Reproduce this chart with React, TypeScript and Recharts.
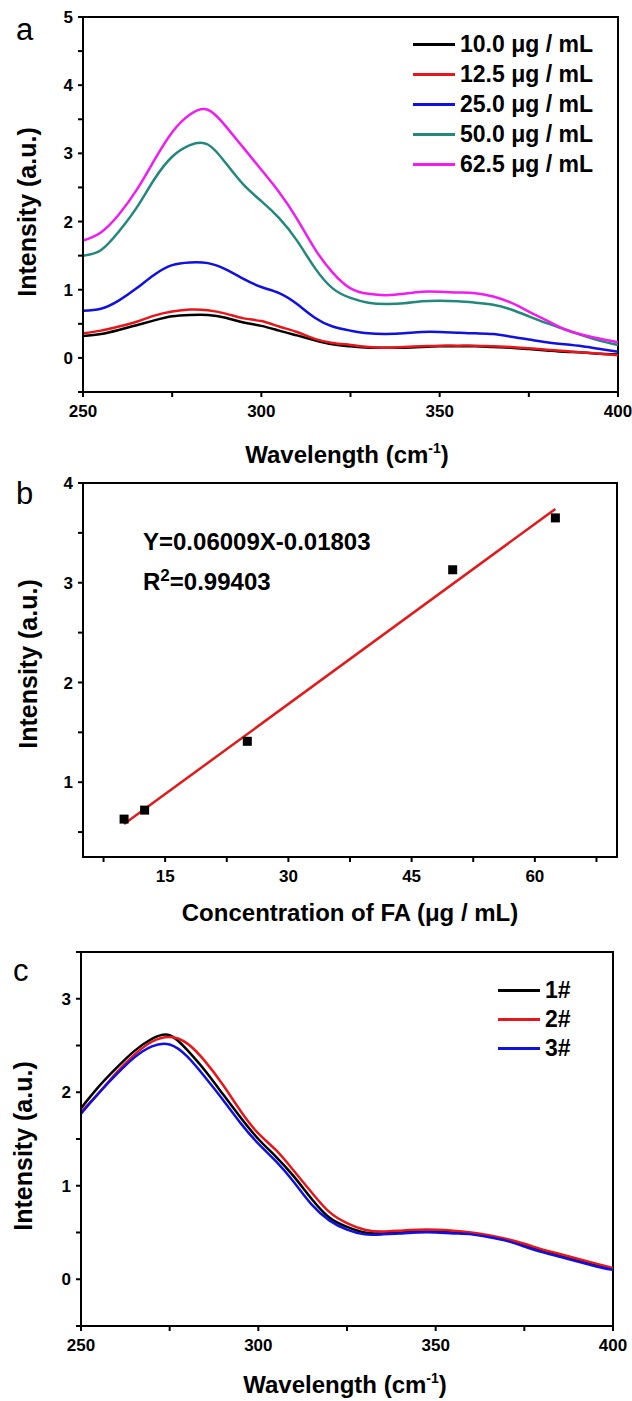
import React from 'react';
import { LineChart, Line, XAxis, YAxis, ReferenceArea, Legend, ScatterChart, Scatter } from 'recharts';

const FONT = '"Liberation Sans", Arial, sans-serif';

// ---- panel a: spectra at five FA concentrations ----
const waveA = [250, 255, 260, 265, 270, 275, 280, 285, 290, 295, 300, 305, 310, 315, 320, 325, 330, 335, 340, 345, 350, 355, 360, 365, 370, 375, 380, 385, 390, 395, 400];
const conc10 = [0.32, 0.35, 0.41, 0.48, 0.55, 0.61, 0.63, 0.63, 0.59, 0.52, 0.47, 0.40, 0.33, 0.26, 0.20, 0.17, 0.15, 0.15, 0.15, 0.16, 0.17, 0.17, 0.17, 0.16, 0.15, 0.13, 0.11, 0.09, 0.08, 0.06, 0.05];
const conc125 = [0.36, 0.40, 0.46, 0.53, 0.62, 0.68, 0.71, 0.70, 0.65, 0.58, 0.54, 0.46, 0.38, 0.28, 0.22, 0.19, 0.16, 0.15, 0.16, 0.17, 0.18, 0.18, 0.18, 0.17, 0.16, 0.14, 0.12, 0.10, 0.08, 0.06, 0.04];
const conc25 = [0.69, 0.72, 0.84, 1.02, 1.22, 1.36, 1.40, 1.39, 1.30, 1.16, 1.04, 0.95, 0.79, 0.59, 0.46, 0.40, 0.36, 0.35, 0.36, 0.38, 0.38, 0.37, 0.36, 0.35, 0.31, 0.27, 0.23, 0.20, 0.17, 0.13, 0.09];
const conc50 = [1.50, 1.58, 1.85, 2.20, 2.62, 2.95, 3.12, 3.13, 2.86, 2.54, 2.30, 2.05, 1.72, 1.32, 1.02, 0.88, 0.81, 0.79, 0.80, 0.83, 0.84, 0.83, 0.81, 0.78, 0.71, 0.61, 0.51, 0.42, 0.33, 0.25, 0.19];
const conc625 = [1.72, 1.84, 2.10, 2.46, 2.90, 3.31, 3.57, 3.64, 3.40, 3.08, 2.76, 2.43, 2.04, 1.60, 1.25, 1.02, 0.94, 0.92, 0.94, 0.97, 0.97, 0.96, 0.95, 0.90, 0.81, 0.68, 0.55, 0.42, 0.34, 0.28, 0.23];
const labelsA = ['10.0 μg / mL', '12.5 μg / mL', '25.0 μg / mL', '50.0 μg / mL', '62.5 μg / mL'];

// ---- panel b: calibration points + fitted line ----
const concB = [10, 12.5, 25, 50, 62.5];
const peakB = [0.63, 0.72, 1.41, 3.13, 3.65];
const fitX = [10, 62.5];
const fitY = [0.58, 3.74];

// ---- panel c: three repeat samples ----
const waveC = waveA;
const rep1 = [1.83, 2.06, 2.26, 2.44, 2.57, 2.61, 2.45, 2.23, 1.98, 1.73, 1.50, 1.31, 1.10, 0.86, 0.66, 0.56, 0.50, 0.49, 0.50, 0.51, 0.51, 0.50, 0.49, 0.46, 0.42, 0.36, 0.31, 0.26, 0.20, 0.15, 0.11];
const rep2 = [1.79, 1.99, 2.21, 2.40, 2.54, 2.59, 2.52, 2.33, 2.08, 1.80, 1.56, 1.38, 1.16, 0.93, 0.72, 0.60, 0.53, 0.51, 0.52, 0.53, 0.53, 0.52, 0.50, 0.47, 0.43, 0.38, 0.32, 0.27, 0.22, 0.17, 0.12];
const rep3 = [1.77, 1.99, 2.19, 2.37, 2.49, 2.51, 2.38, 2.16, 1.92, 1.67, 1.45, 1.26, 1.04, 0.80, 0.63, 0.53, 0.48, 0.48, 0.49, 0.50, 0.50, 0.49, 0.48, 0.45, 0.41, 0.35, 0.29, 0.24, 0.19, 0.14, 0.10];
const labelsC = ['1#', '2#', '3#'];

// tick lists
const waveTicks = [250, 275, 300, 325, 350, 375, 400];
const ticksA = [-0.5, 0, 0.5, 1, 1.5, 2, 2.5, 3, 3.5, 4, 4.5, 5];
const ticksBx = [7.5, 15, 22.5, 30, 37.5, 45, 52.5, 60, 67.5];
const ticksBy = [0.5, 1, 1.5, 2, 2.5, 3, 3.5, 4];
const ticksC = [-0.5, 0, 0.5, 1, 1.5, 2, 2.5, 3, 3.5];

const colorsA = ['#000000', '#e8161b', '#1010e0', '#22887c', '#f01cf0'];
const colorsC = ['#000000', '#e8161b', '#1010e0'];

const rowsA = waveA.map((w, i) => ({ w, s0: conc10[i], s1: conc125[i], s2: conc25[i], s3: conc50[i], s4: conc625[i] }));
const rowsC = waveC.map((w, i) => ({ w, s0: rep1[i], s1: rep2[i], s2: rep3[i] }));
const pointsB = concB.map((x, i) => ({ x, y: peakB[i] }));
const fitB = fitX.map((x, i) => ({ x, y: fitY[i] }));

const tickFont = { fill: '#000', fontSize: 17, fontWeight: 700, fontFamily: FONT };
const axisLine = { stroke: '#000', strokeWidth: 2 };
const tickLine = { stroke: '#000', strokeWidth: 2 };

const waveFmt = (v: number) => (v % 50 === 0 ? String(v) : '');
const intFmt = (v: number) => (Number.isInteger(v) ? String(v) : '');
const fifteenFmt = (v: number) => (v % 15 === 0 ? String(v) : '');

const makeLegend = (rowH: number) => (props: any) => {
  const items = props.payload || [];
  return (
    <div style={{ fontFamily: FONT }}>
      {items.map((it: any) => (
        <div key={it.value} style={{ display: 'flex', alignItems: 'center', height: rowH }}>
          <div style={{ width: 42, height: 3, background: it.color, marginRight: 5 }} />
          <span style={{ fontSize: 23, fontWeight: 700, color: '#000', whiteSpace: 'nowrap' }}>{it.value}</span>
        </div>
      ))}
    </div>
  );
};

const abs = (left: number, top: number, extra: React.CSSProperties = {}): React.CSSProperties => ({
  position: 'absolute',
  left,
  top,
  fontFamily: FONT,
  color: '#000',
  whiteSpace: 'nowrap',
  lineHeight: 1,
  ...extra,
});

const YTitle = ({ x, y }: { x: number; y: number }) => (
  <div style={abs(x, y, { fontSize: 25, fontWeight: 700, transform: 'translate(-50%, -50%) rotate(-90deg)' })}>
    Intensity (a.u.)
  </div>
);

const WaveTitle = ({ x, y }: { x: number; y: number }) => (
  <div style={abs(x, y, { fontSize: 24, fontWeight: 700, transform: 'translate(-50%, -50%)' })}>
    Wavelength (cm<span style={{ fontSize: 14, position: 'relative', top: -10 }}>-1</span>)
  </div>
);

export default function App() {
  return (
    <div style={{ position: 'fixed', left: 0, top: 0, width: 632, height: 1401, background: '#fff', overflow: 'hidden' }}>
      {/* panel a */}
      <div style={{ position: 'absolute', left: 0, top: 0 }}>
        <LineChart width={632} height={465} data={rowsA} margin={{ top: 17, right: 14, left: 38, bottom: 43 }}>
          <XAxis type="number" dataKey="w" domain={[250, 400]} ticks={waveTicks} interval={0} tickFormatter={waveFmt}
            height={30} axisLine={axisLine} tickLine={tickLine} tickSize={5} tickMargin={8} tick={tickFont} allowDataOverflow />
          <YAxis type="number" domain={[-0.5, 5]} ticks={ticksA} interval={0} tickFormatter={intFmt}
            width={45} axisLine={axisLine} tickLine={tickLine} tickSize={5} tickMargin={5} tick={tickFont} allowDataOverflow />
          <ReferenceArea x1={250} x2={400} y1={-0.5} y2={5} fill="none" stroke="#000" strokeWidth={2} ifOverflow="visible" />
          {labelsA.map((name, i) => (
            <Line key={name} type="natural" dataKey={`s${i}`} name={name} stroke={colorsA[i]} strokeWidth={2.5}
              dot={false} isAnimationActive={false} />
          ))}
          <Legend layout="vertical" align="center" verticalAlign="middle" content={makeLegend(30)}
            wrapperStyle={{ top: 29, left: 413, width: 'auto', height: 'auto' }} />
        </LineChart>
      </div>
      <div style={abs(16, 14, { fontSize: 31 })}>a</div>
      <YTitle x={27} y={212} />
      <WaveTitle x={347} y={455} />

      {/* panel b */}
      <div style={{ position: 'absolute', left: 0, top: 465 }}>
        <ScatterChart width={632} height={465} margin={{ top: 18, right: 15, left: 38, bottom: 43 }}>
          <XAxis type="number" dataKey="x" domain={[5, 70]} ticks={ticksBx} interval={0} tickFormatter={fifteenFmt}
            height={30} axisLine={axisLine} tickLine={tickLine} tickSize={5} tickMargin={8} tick={tickFont} allowDataOverflow />
          <YAxis type="number" dataKey="y" domain={[0.25, 4]} ticks={ticksBy} interval={0} tickFormatter={intFmt}
            width={45} axisLine={axisLine} tickLine={tickLine} tickSize={5} tickMargin={5} tick={tickFont} allowDataOverflow />
          <ReferenceArea x1={5} x2={70} y1={0.25} y2={4} fill="none" stroke="#000" strokeWidth={2} ifOverflow="visible" />
          <Scatter data={fitB} line={{ stroke: '#e11b1b', strokeWidth: 2.5 }} shape={() => <g />} isAnimationActive={false} />
          <Scatter data={pointsB} isAnimationActive={false}
            shape={(p: any) => <rect x={p.cx - 4.5} y={p.cy - 4.5} width={9} height={9} fill="#000" />} />
        </ScatterChart>
      </div>
      <div style={abs(16, 478, { fontSize: 31 })}>b</div>
      <YTitle x={28} y={664} />
      <div style={abs(143, 530, { fontSize: 24, fontWeight: 700 })}>Y=0.06009X-0.01803</div>
      <div style={abs(143, 570, { fontSize: 24, fontWeight: 700 })}>
        R<span style={{ fontSize: 17, position: 'relative', top: -9 }}>2</span>=0.99403
      </div>
      <div style={abs(350, 913, { fontSize: 24, fontWeight: 700, transform: 'translate(-50%, -50%)' })}>
        Concentration of FA (μg / mL)
      </div>

      {/* panel c */}
      <div style={{ position: 'absolute', left: 0, top: 930 }}>
        <LineChart width={632} height={471} data={rowsC} margin={{ top: 22, right: 19, left: 36, bottom: 45 }}>
          <XAxis type="number" dataKey="w" domain={[250, 400]} ticks={waveTicks} interval={0} tickFormatter={waveFmt}
            height={30} axisLine={axisLine} tickLine={tickLine} tickSize={5} tickMargin={8} tick={tickFont} allowDataOverflow />
          <YAxis type="number" domain={[-0.5, 3.5]} ticks={ticksC} interval={0} tickFormatter={intFmt}
            width={45} axisLine={axisLine} tickLine={tickLine} tickSize={5} tickMargin={5} tick={tickFont} allowDataOverflow />
          <ReferenceArea x1={250} x2={400} y1={-0.5} y2={3.5} fill="none" stroke="#000" strokeWidth={2} ifOverflow="visible" />
          {labelsC.map((name, i) => (
            <Line key={name} type="natural" dataKey={`s${i}`} name={name} stroke={colorsC[i]} strokeWidth={2.5}
              dot={false} isAnimationActive={false} />
          ))}
          <Legend layout="vertical" align="center" verticalAlign="middle" content={makeLegend(29)}
            wrapperStyle={{ top: 46, left: 498, width: 'auto', height: 'auto' }} />
        </LineChart>
      </div>
      <div style={abs(13, 955, { fontSize: 31 })}>c</div>
      <YTitle x={23} y={1146} />
      <WaveTitle x={345} y={1385} />
    </div>
  );
}
